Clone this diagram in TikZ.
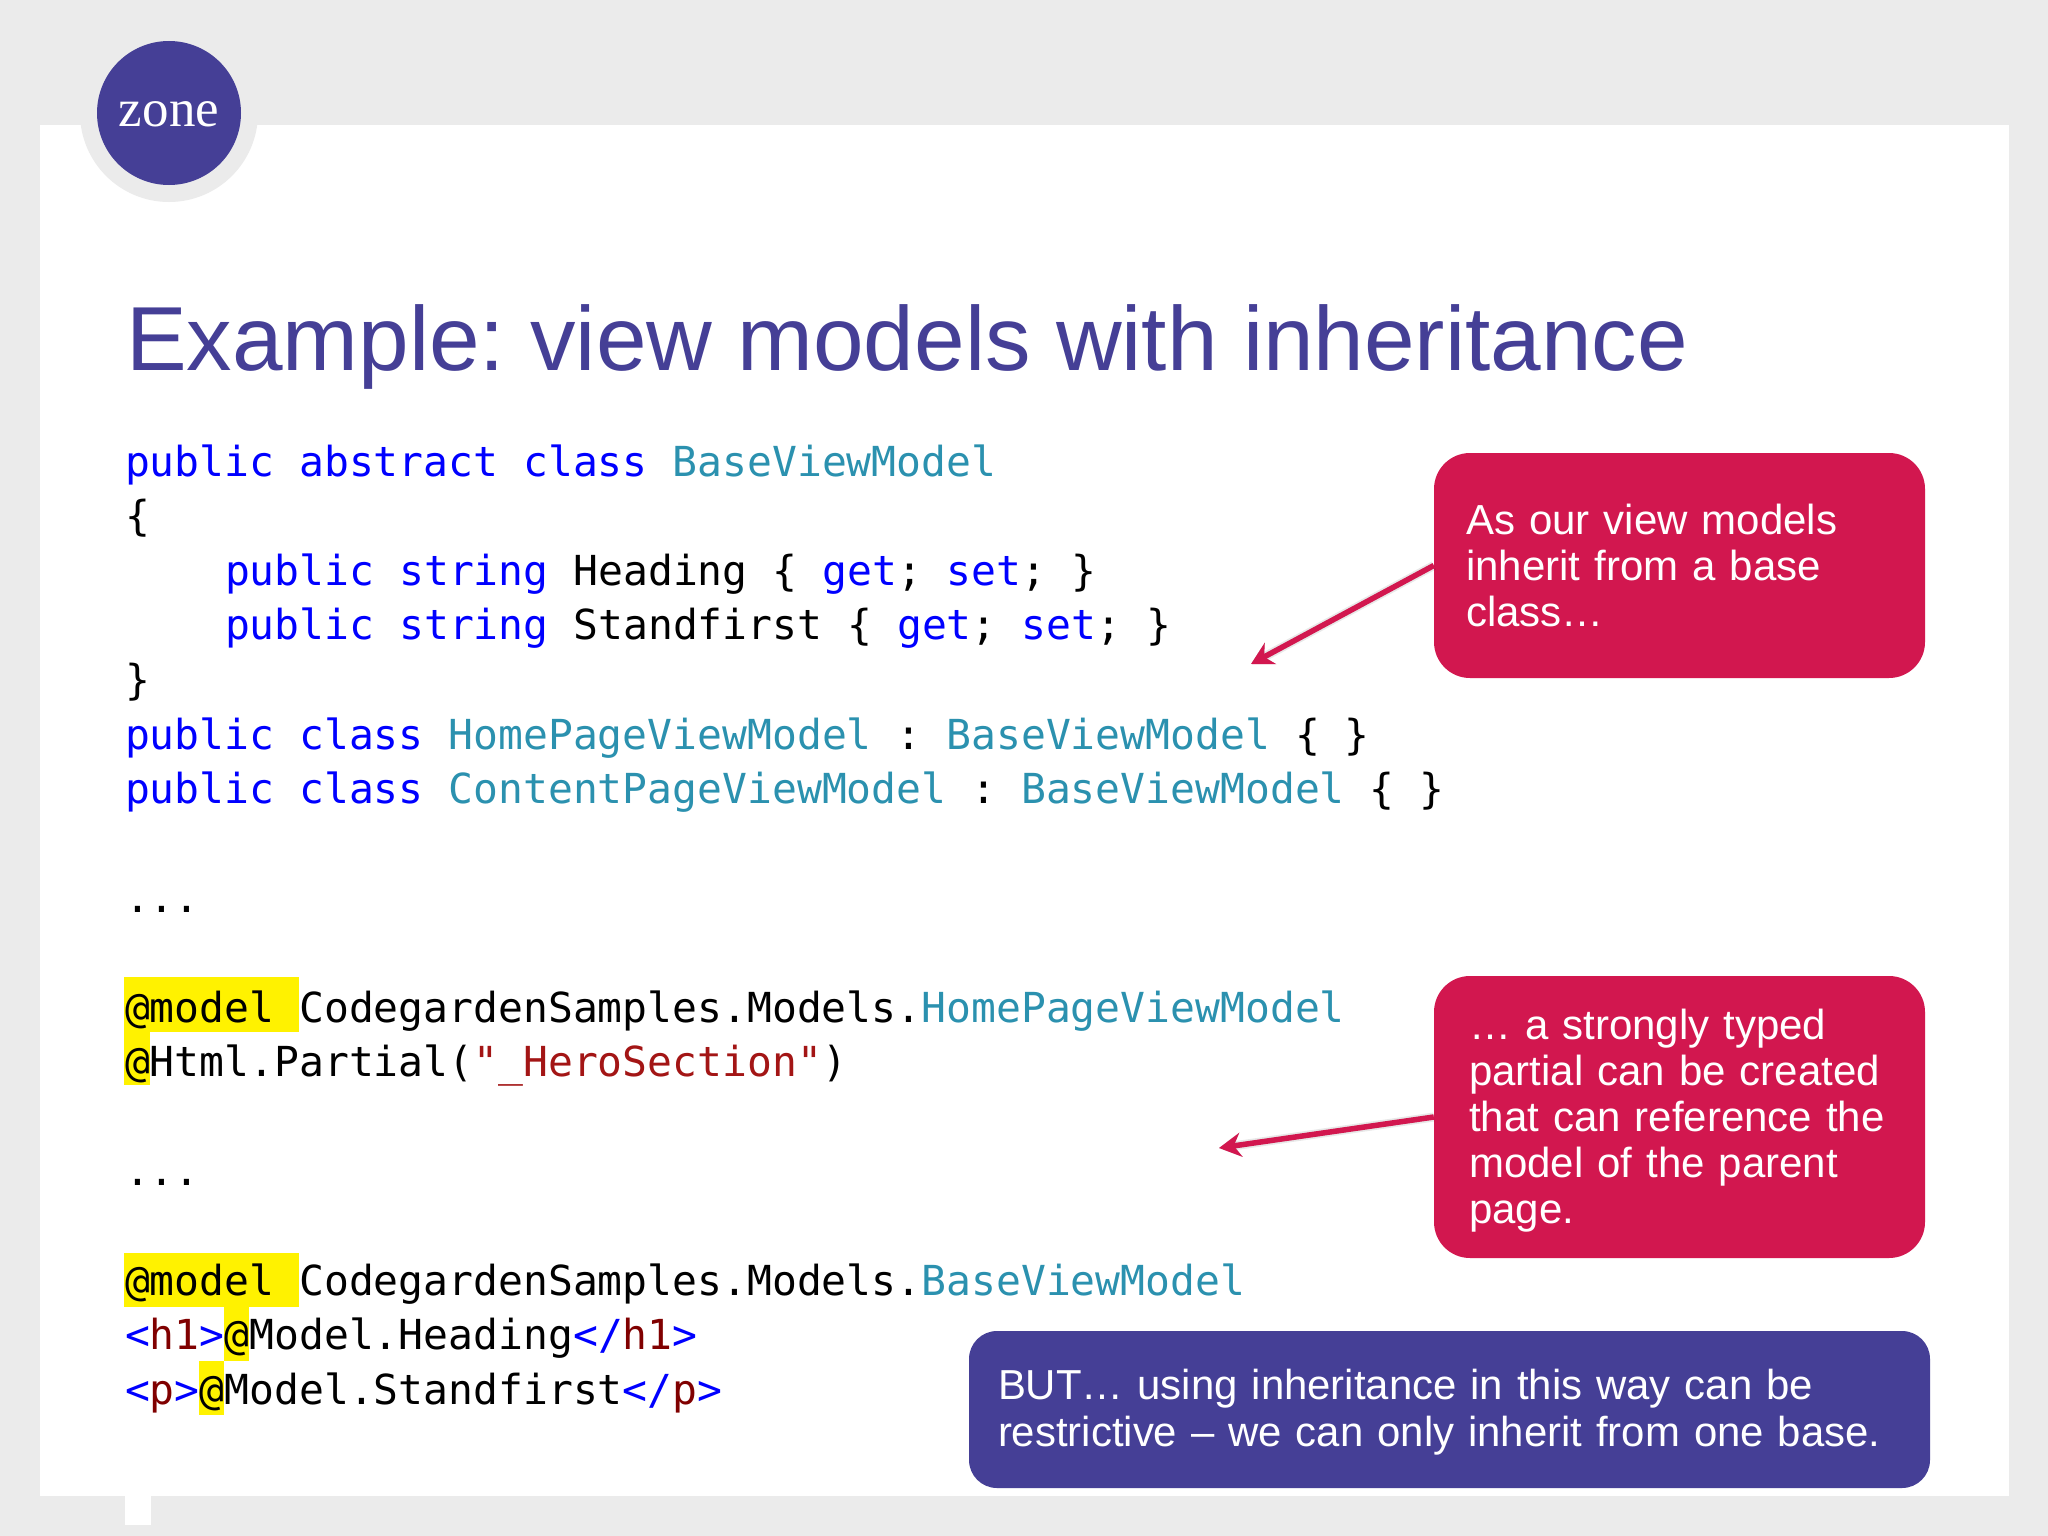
\documentclass[tikz,border=0pt]{standalone}
\usepackage{fontspec}
\setmainfont{Liberation Sans}
\newfontfamily\codefont{DejaVu Sans Mono}
\newfontfamily\zonefont{Liberation Serif}
\usetikzlibrary{arrows.meta}
\definecolor{pagebg}{HTML}{EBEBEB}
\definecolor{zonepurple}{HTML}{453F96}
\definecolor{zonered}{HTML}{D2174F}
\definecolor{kw}{HTML}{0000FF}
\definecolor{ty}{HTML}{2B91AF}
\definecolor{str}{HTML}{A31515}
\definecolor{tagname}{HTML}{800000}
\newcommand{\kw}[1]{\textcolor{kw}{#1}}
\newcommand{\ty}[1]{\textcolor{ty}{#1}}
\newcommand{\st}[1]{\textcolor{str}{#1}}
\newcommand{\tg}[1]{\textcolor{tagname}{#1}}
\tikzset{
  codeline/.style={anchor=base west,inner sep=0pt,outer sep=0pt,font=\codefont\frenchspacing\fontsize{41.35}{50}\selectfont,text=black},
  callout/.style={fill=#1,rounded corners=36pt,inner ysep=0pt,text=white,align=left,anchor=center,font=\frenchspacing\fontsize{42}{46}\selectfont},
  pointer/.style={draw=zonered,line width=5.5pt,-{Stealth[length=22pt,width=24pt]}},
  pointershadow/.style={draw=black,line width=#1,opacity=.09,-{Stealth[length=22pt,width=24pt]}},
  hilite/.style={fill=yellow},
}
\begin{document}
\begin{tikzpicture}[x=1pt,y=-1pt]
\useasboundingbox (0,0) rectangle (2048,1536);
\fill[pagebg] (0,0) rectangle (2048,1536);
\fill[white] (40,125) rectangle (2009,1496);
\fill[white] (125,1496) rectangle (151,1525);
% logo
\fill[pagebg] (169,113) circle[radius=89];
\node[circle,fill=zonepurple,minimum size=144pt,inner sep=0pt] (logo) at (169,113) {};
\node[anchor=base,inner sep=0pt,text=white,font=\zonefont\fontsize{53}{53}\selectfont] (zonetext) at (169,127) {zone};
% title
\node[anchor=base west,inner sep=0pt,text=zonepurple,font=\frenchspacing\fontsize{90.95}{100}\selectfont] (title) at (126,370) {Example: view models with inheritance};
% highlights
\fill[hilite] (124,977) rectangle (299,1032);
\fill[hilite] (124,1032) rectangle (150,1085);
\fill[hilite] (124,1253) rectangle (299,1307);
\fill[hilite] (224,1307) rectangle (249,1361);
\fill[hilite] (199,1361) rectangle (224,1415);
% code
\node[codeline] (c0) at (125,476) {\kw{public abstract class} \ty{BaseViewModel}};
\node[codeline] (c1) at (125,530.6) {\{};
\node[codeline] (c2) at (225,585.2) {\kw{public string} Heading \{ \kw{get}; \kw{set}; \}};
\node[codeline] (c3) at (225,639.8) {\kw{public string} Standfirst \{ \kw{get}; \kw{set}; \}};
\node[codeline] (c4) at (125,694.4) {\}};
\node[codeline] (c5) at (125,749) {\kw{public class} \ty{HomePageViewModel} : \ty{BaseViewModel} \{ \}};
\node[codeline] (c6) at (125,803.6) {\kw{public class} \ty{ContentPageViewModel} : \ty{BaseViewModel} \{ \}};
\node[codeline] (c8) at (125,912.8) {...};
\node[codeline] (c10) at (125,1022) {@model CodegardenSamples.Models.\ty{HomePageViewModel}};
\node[codeline] (c11) at (125,1076.6) {@Html.Partial(\st{"\_HeroSection"})};
\node[codeline] (c13) at (125,1185.8) {...};
\node[codeline] (c15) at (125,1295) {@model CodegardenSamples.Models.\ty{BaseViewModel}};
\node[codeline] (c16) at (125,1349.6) {\kw{<}\tg{h1}\kw{>}@Model.Heading\kw{</}\tg{h1}\kw{>}};
\node[codeline] (c17) at (125,1404.2) {\kw{<}\tg{p}\kw{>}@Model.Standfirst\kw{</}\tg{p}\kw{>}};
% callouts
\node[callout=zonered,text width=427pt,inner xsep=32pt,minimum height=225pt] (redA) at (1679.5,565.5) {As our view models\\inherit from a base\\class…};
\node[callout=zonered,text width=425pt,inner xsep=33pt,minimum height=282pt] (redB) at (1679.5,1117) {\rule{0pt}{37pt}\hspace{2pt}… a strongly typed\\\hspace{2pt}partial can be created\\\hspace{2pt}that can reference the\\\hspace{2pt}model of the parent\\\hspace{2pt}page.};
\node[callout=zonepurple,text width=903pt,inner xsep=29pt,minimum height=157pt,rounded corners=28pt,font=\frenchspacing\fontsize{41.9}{47}\selectfont] (blueC) at (1449.5,1409.5) {\rule{0pt}{36pt}BUT… using inheritance in this way can be\\restrictive – we can only inherit from one base.};
% pointers
\coordinate (tipA) at (1251,664);
\coordinate (tipB) at (1219,1148);
\begin{scope}[xshift=3pt,yshift=-6pt]
\draw[pointershadow=9pt] (redA.west) -- (tipA);
\draw[pointershadow=9pt] (redB.west) -- (tipB);
\draw[pointershadow=5pt] (redA.west) -- (tipA);
\draw[pointershadow=5pt] (redB.west) -- (tipB);
\end{scope}
\draw[pointer] (redA.west) -- (tipA);
\draw[pointer] (redB.west) -- (tipB);
\end{tikzpicture}
\end{document}
